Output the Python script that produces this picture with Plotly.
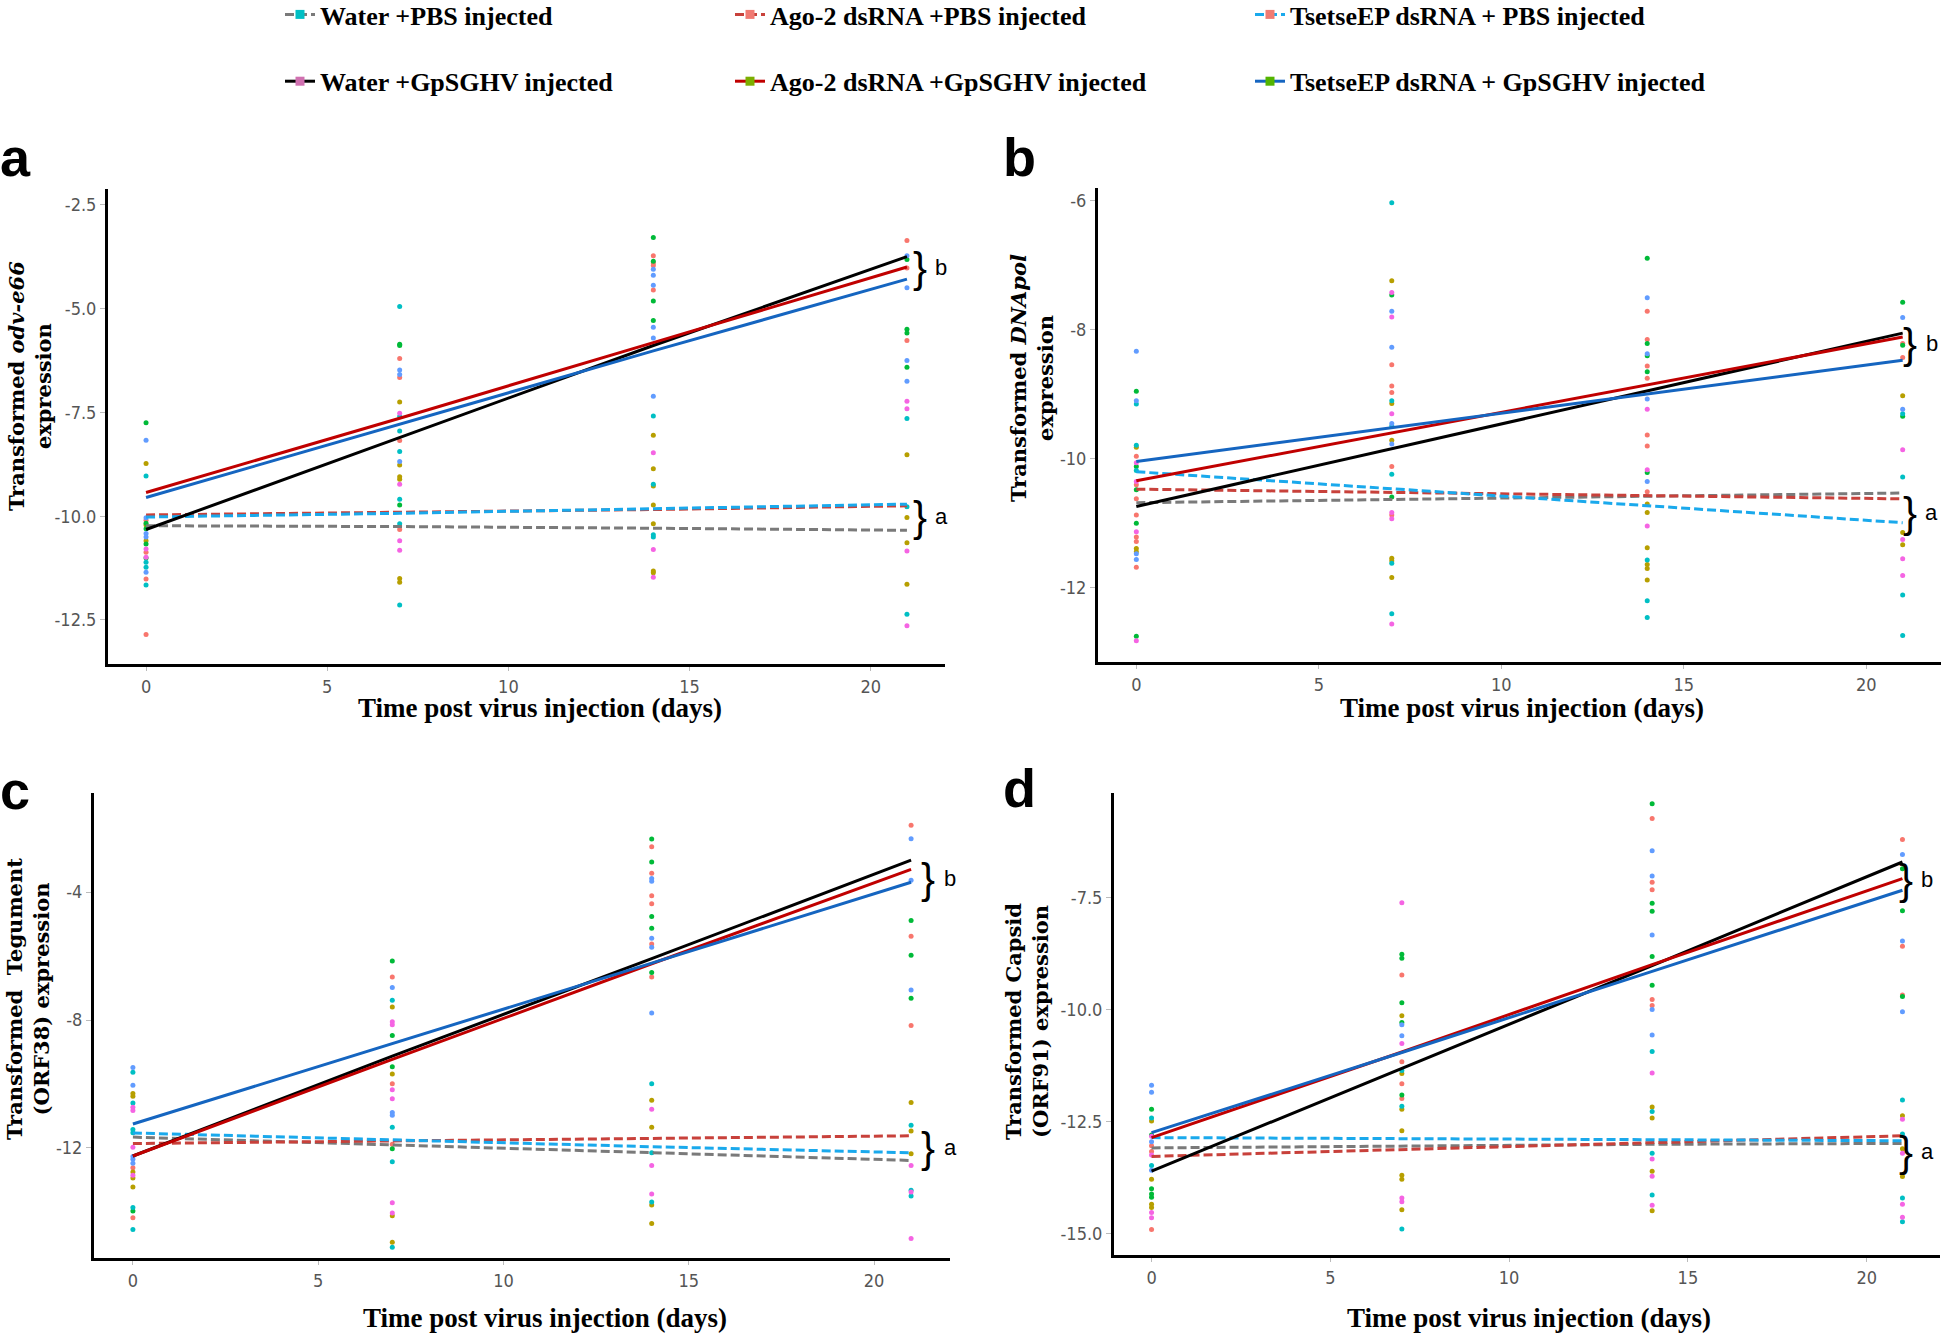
import plotly.graph_objects as go

W, H = 1946, 1337

# ---------------- data ----------------
DAYS = [0, 7, 14, 21]

GROUPS = ["Water +PBS injected", "Ago-2 dsRNA +PBS injected", "TsetseEP dsRNA + PBS injected",
          "Water +GpSGHV injected", "Ago-2 dsRNA +GpSGHV injected", "TsetseEP dsRNA + GpSGHV injected"]
LINE_COLORS = ["#7a7a7a", "#c8413b", "#1aa9ec", "#000000", "#c00000", "#1565c0"]
LINE_DASH = ["9px,4px", "9px,4px", "9px,4px", "solid", "solid", "solid"]
LEGEND_MARKER_COLORS = ["#00bfc4", "#f07a72", "#f07a72", "#d070b0", "#7cae00", "#53b400"]
LEGEND_COLUMN = ["legend", "legend2", "legend3", "legend", "legend2", "legend3"]

# regression lines: value at DAYS, one list per group (order as GROUPS)
FIT_A = [[-10.23, -10.25, -10.29, -10.34], [-9.97, -9.91, -9.84, -9.75], [-10.02, -9.93, -9.82, -9.71],
         [-10.32, -8.11, -5.89, -3.75], [-9.43, -7.64, -5.82, -4.0], [-9.55, -7.79, -6.02, -4.29]]
FIT_B = [[-10.69, -10.64, -10.59, -10.54], [-10.48, -10.53, -10.58, -10.63], [-10.21, -10.47, -10.74, -11.0],
         [-10.75, -9.85, -8.95, -8.06], [-10.35, -9.61, -8.86, -8.12], [-10.05, -9.53, -9.0, -8.48]]
FIT_C = [[-11.66, -11.9, -12.15, -12.39], [-11.86, -11.78, -11.69, -11.62], [-11.53, -11.75, -11.96, -12.15],
         [-12.25, -9.13, -6.08, -3.0], [-12.25, -9.23, -6.24, -3.29], [-11.25, -8.74, -6.22, -3.69]]
FIT_D = [[-13.08, -13.04, -13.0, -12.98], [-13.27, -13.12, -12.96, -12.81], [-12.85, -12.87, -12.9, -12.92],
         [-13.6, -11.31, -9.01, -6.7], [-12.85, -10.94, -8.99, -7.07], [-12.74, -10.95, -9.14, -7.33]]

PT_COLORS = {"R": "#f8766d", "O": "#b79f00", "G": "#00ba38", "C": "#00bfc4", "B": "#619cff", "P": "#f564e3"}

PTS_A = {
    0: [(-7.75, "G"), (-8.17, "B"), (-8.73, "O"), (-9.03, "C"), (-10.04, "B"), (-10.10, "R"), (-10.17, "G"),
        (-10.21, "O"), (-10.30, "G"), (-10.42, "B"), (-10.50, "B"), (-10.59, "O"), (-10.67, "G"), (-10.79, "P"),
        (-10.87, "R"), (-10.99, "P"), (-11.01, "G"), (-11.11, "C"), (-11.23, "C"), (-11.35, "B"), (-11.51, "R"),
        (-11.66, "C"), (-12.85, "R")],
    7: [(-4.95, "C"), (-5.86, "G"), (-5.89, "G"), (-6.2, "R"), (-6.48, "B"), (-6.59, "B"), (-6.66, "R"),
        (-7.25, "O"), (-7.52, "P"), (-7.6, "C"), (-7.95, "C"), (-8.18, "R"), (-8.44, "C"), (-8.68, "B"),
        (-8.77, "O"), (-9.05, "O"), (-9.11, "O"), (-9.23, "P"), (-9.59, "C"), (-9.73, "G"), (-10.18, "C"),
        (-10.32, "R"), (-10.59, "P"), (-10.82, "P"), (-11.5, "O"), (-11.59, "O"), (-12.14, "C")],
    14: [(-3.29, "G"), (-3.73, "R"), (-3.9, "R"), (-3.86, "G"), (-3.96, "R"), (-4.05, "B"), (-4.2, "B"),
         (-4.44, "B"), (-4.55, "R"), (-4.82, "G"), (-5.29, "G"), (-5.45, "B"), (-5.71, "B"), (-7.11, "B"),
         (-7.59, "C"), (-8.05, "O"), (-8.47, "P"), (-8.86, "O"), (-9.23, "C"), (-9.27, "O"), (-9.73, "O"),
         (-10.18, "O"), (-10.45, "C"), (-10.5, "C"), (-10.8, "P"), (-11.32, "O"), (-11.36, "O"), (-11.47, "P")],
    21: [(-3.36, "R"), (-3.73, "B"), (-3.82, "G"), (-4.02, "R"), (-4.5, "B"), (-5.5, "G"), (-5.59, "G"),
         (-5.77, "R"), (-6.25, "B"), (-6.41, "G"), (-6.75, "B"), (-7.23, "P"), (-7.41, "P"), (-7.65, "C"),
         (-8.52, "O"), (-9.77, "C"), (-10.03, "O"), (-10.64, "O"), (-10.84, "P"), (-11.64, "O"), (-12.36, "C"),
         (-12.64, "P")],
}
PTS_B = {
    0: [(-8.34, "B"), (-8.96, "G"), (-9.11, "B"), (-9.16, "C"), (-9.80, "C"), (-9.83, "O"), (-9.97, "R"),
        (-10.07, "P"), (-10.13, "G"), (-10.19, "C"), (-10.36, "P"), (-10.41, "R"), (-10.49, "G"), (-10.63, "R"),
        (-10.88, "R"), (-11.01, "G"), (-11.14, "P"), (-11.22, "R"), (-11.29, "R"), (-11.4, "O"), (-11.45, "O"),
        (-11.48, "B"), (-11.57, "B"), (-11.69, "R"), (-12.76, "G"), (-12.83, "P")],
    7: [(-6.04, "C"), (-7.25, "O"), (-7.43, "P"), (-7.47, "G"), (-7.72, "B"), (-7.81, "P"), (-8.28, "B"),
        (-8.55, "R"), (-8.88, "R"), (-8.98, "R"), (-9.11, "C"), (-9.15, "O"), (-9.31, "P"), (-9.46, "B"),
        (-9.5, "C"), (-9.72, "O"), (-9.78, "B"), (-10.13, "R"), (-10.25, "C"), (-10.6, "G"), (-10.84, "P"),
        (-10.88, "R"), (-10.94, "P"), (-11.55, "O"), (-11.59, "O"), (-11.63, "C"), (-11.85, "O"), (-12.41, "C"),
        (-12.57, "P")],
    14: [(-6.9, "G"), (-7.51, "B"), (-7.72, "R"), (-8.16, "R"), (-8.22, "G"), (-8.38, "B"), (-8.41, "G"),
         (-8.57, "R"), (-8.66, "G"), (-8.76, "R"), (-9.08, "B"), (-9.24, "P"), (-9.64, "R"), (-9.81, "R"),
         (-10.18, "P"), (-10.22, "G"), (-10.36, "B"), (-10.52, "R"), (-10.71, "O"), (-10.84, "O"), (-11.05, "P"),
         (-11.39, "O"), (-11.58, "C"), (-11.65, "O"), (-11.71, "O"), (-11.89, "O"), (-12.21, "C"), (-12.47, "C")],
    21: [(-7.58, "G"), (-7.82, "B"), (-8.22, "R"), (-8.25, "G"), (-8.44, "R"), (-9.03, "O"), (-9.24, "B"),
         (-9.31, "C"), (-9.35, "G"), (-9.87, "P"), (-10.29, "C"), (-11.15, "O"), (-11.26, "P"), (-11.34, "O"),
         (-11.56, "P"), (-11.82, "P"), (-12.12, "C"), (-12.75, "C")],
}
PTS_C = {
    0: [(-9.48, "B"), (-9.63, "C"), (-10.04, "B"), (-10.3, "O"), (-10.38, "O"), (-10.59, "C"), (-10.73, "P"),
        (-10.83, "P"), (-11.42, "C"), (-11.52, "C"), (-11.98, "P"), (-12.27, "B"), (-12.35, "B"), (-12.48, "B"),
        (-12.62, "R"), (-12.75, "O"), (-12.85, "P"), (-12.94, "O"), (-13.22, "O"), (-13.86, "C"), (-13.97, "G"),
        (-14.18, "R"), (-14.55, "C")],
    7: [(-6.15, "G"), (-6.65, "R"), (-6.98, "B"), (-7.38, "C"), (-7.59, "O"), (-8.05, "P"), (-8.15, "P"),
        (-8.48, "G"), (-9.46, "G"), (-9.69, "O"), (-9.99, "R"), (-10.18, "P"), (-10.46, "P"), (-10.89, "B"),
        (-10.98, "B"), (-11.35, "C"), (-11.88, "R"), (-12.02, "G"), (-12.43, "C"), (-13.71, "P"), (-14.03, "P"),
        (-14.12, "O"), (-14.95, "O"), (-15.1, "C")],
    14: [(-2.34, "G"), (-2.58, "R"), (-3.06, "G"), (-3.41, "R"), (-3.57, "B"), (-3.66, "B"), (-4.11, "R"),
         (-4.36, "R"), (-4.76, "G"), (-5.13, "G"), (-5.44, "B"), (-5.62, "R"), (-5.72, "B"), (-6.51, "G"),
         (-6.65, "R"), (-7.78, "B"), (-9.99, "C"), (-10.51, "O"), (-10.79, "P"), (-11.35, "O"), (-12.15, "C"),
         (-12.55, "P"), (-13.44, "P"), (-13.69, "C"), (-13.78, "O"), (-14.36, "O")],
    21: [(-1.91, "R"), (-2.33, "B"), (-3.63, "B"), (-4.89, "G"), (-5.38, "R"), (-5.97, "G"), (-7.06, "B"),
         (-7.32, "G"), (-8.17, "R"), (-10.58, "O"), (-11.29, "C"), (-11.47, "O"), (-12.18, "O"), (-12.55, "P"),
         (-13.32, "C"), (-13.38, "P"), (-13.5, "C"), (-14.83, "P")],
}
PTS_D = {
    0: [(-11.68, "B"), (-11.84, "B"), (-12.22, "G"), (-12.41, "C"), (-12.48, "O"), (-12.79, "G"), (-12.82, "P"),
        (-12.94, "B"), (-13.03, "R"), (-13.16, "R"), (-13.24, "P"), (-13.47, "C"), (-13.58, "B"), (-13.78, "O"),
        (-13.99, "G"), (-14.11, "G"), (-14.18, "G"), (-14.34, "O"), (-14.41, "O"), (-14.52, "P"), (-14.64, "P"),
        (-14.9, "R")],
    7: [(-7.61, "P"), (-8.76, "G"), (-8.85, "G"), (-9.22, "R"), (-9.84, "G"), (-10.13, "O"), (-10.28, "G"),
        (-10.33, "B"), (-10.58, "B"), (-10.75, "P"), (-11.16, "R"), (-11.35, "C"), (-11.42, "O"), (-11.65, "R"),
        (-11.9, "G"), (-11.98, "R"), (-12.15, "C"), (-12.22, "O"), (-12.7, "O"), (-13.69, "O"), (-13.78, "O"),
        (-14.2, "P"), (-14.28, "P"), (-14.46, "O"), (-14.89, "C")],
    14: [(-5.4, "G"), (-5.73, "R"), (-6.45, "B"), (-7.01, "B"), (-7.15, "R"), (-7.32, "R"), (-7.62, "G"),
         (-7.8, "G"), (-8.33, "B"), (-8.81, "G"), (-9.45, "G"), (-9.77, "R"), (-9.9, "R"), (-9.99, "B"),
         (-10.56, "B"), (-10.93, "C"), (-11.41, "P"), (-12.17, "O"), (-12.27, "C"), (-12.41, "O"), (-13.2, "C"),
         (-13.33, "P"), (-13.6, "O"), (-13.71, "P"), (-14.13, "C"), (-14.36, "P"), (-14.48, "O")],
    21: [(-6.2, "R"), (-6.53, "B"), (-6.85, "G"), (-7.79, "G"), (-8.46, "B"), (-8.58, "R"), (-9.67, "R"),
         (-9.7, "G"), (-10.04, "B"), (-12.01, "C"), (-12.36, "O"), (-12.44, "P"), (-12.77, "C"), (-13.1, "O"),
         (-13.2, "P"), (-13.72, "O"), (-14.2, "C"), (-14.34, "P"), (-14.63, "P"), (-14.73, "C")],
}

Y_TITLES = ["Transformed <i>odv-e66</i><br>expression",
            "Transformed <i>DNApol</i><br>expression",
            "Transformed \u00a0Tegument<br>(ORF38) expression",
            "Transformed Capsid<br>(ORF91) expression"]
X_TITLE = "Time post virus injection (days)"
PANEL_LETTERS = ["a", "b", "c", "d"]

X_TICKS = [0, 5, 10, 15, 20]
Y_TICKS = [[-12.5, -10.0, -7.5, -5.0, -2.5], [-12, -10, -8, -6], [-12, -8, -4], [-15.0, -12.5, -10.0, -7.5]]
Y_TICKTEXT = [["-12.5", "-10.0", "-7.5", "-5.0", "-2.5"], ["-12", "-10", "-8", "-6"], ["-12", "-8", "-4"],
              ["-15.0", "-12.5", "-10.0", "-7.5"]]
Y_RANGES = [[-13.56, -2.12], [-13.16, -5.81], [-15.44, -0.9], [-15.47, -5.16]]
# significance brackets: (y of "b" group, y of "a" group)
BRACKETS = [(-4.0, -10.0), (-8.22, -10.84), (-3.56, -12.0), (-7.1, -13.17)]
BRACKET_X = [21.35, 21.2, 21.45, 21.1]

# ---------------- layout geometry (pixels) ----------------
DOMAINS_PX = [((108, 945), (189, 664)), ((1098, 1941), (188, 662)),
              ((94, 950), (793, 1258)), ((1114, 1940), (793, 1255))]
YTITLE_POS = [(30, 386), (1032, 378), (28, 999), (1027, 1022)]
XTITLE_POS = [(540, 708), (1522, 708), (545, 1318), (1529, 1318)]
LETTER_POS = [(15, 157), (1019, 157), (15, 790), (1019, 788)]

fig = go.Figure()
panels_pts = [PTS_A, PTS_B, PTS_C, PTS_D]
panels_fit = [FIT_A, FIT_B, FIT_C, FIT_D]

TICK_FONT = dict(family="Liberation Sans Narrow, DejaVu Sans Condensed, Liberation Sans", size=18, color="#555555")

for p in range(4):
    xa = "x" if p == 0 else f"x{p + 1}"
    ya = "y" if p == 0 else f"y{p + 1}"
    for code, col in PT_COLORS.items():
        xs, ys = [], []
        for d in DAYS:
            for v, c in panels_pts[p][d]:
                if c == code:
                    xs.append(d)
                    ys.append(v)
        fig.add_trace(go.Scatter(x=xs, y=ys, mode="markers", xaxis=xa, yaxis=ya, showlegend=False,
                                 marker=dict(color=col, size=5, line=dict(width=0)), hoverinfo="skip"))
    for g in range(6):
        fig.add_trace(go.Scatter(x=DAYS, y=panels_fit[p][g], mode="lines", xaxis=xa, yaxis=ya,
                                 showlegend=False, name=GROUPS[g],
                                 line=dict(color=LINE_COLORS[g], width=3, dash=LINE_DASH[g])))

# legend entries
for g in range(6):
    fig.add_trace(go.Scatter(x=[None], y=[None], mode="lines+markers", name=GROUPS[g],
                             legend=LEGEND_COLUMN[g], legendgroup=GROUPS[g],
                             line=dict(color=LINE_COLORS[g], width=3, dash=LINE_DASH[g]),
                             marker=dict(color=LEGEND_MARKER_COLORS[g], size=9, symbol="square")))

layout = dict(width=W, height=H, margin=dict(l=0, r=0, t=0, b=0, autoexpand=False),
              plot_bgcolor="white", paper_bgcolor="white", annotations=[])

LEG_FONT = dict(family="Liberation Serif", size=26, color="black", weight="bold")
for name, lx in [("legend", 280), ("legend2", 730), ("legend3", 1250)]:
    layout[name] = dict(x=lx / W, y=1 + 9 / H, xanchor="left", yanchor="top", orientation="v",
                        font=LEG_FONT, tracegroupgap=30, bgcolor="rgba(0,0,0,0)")

for p in range(4):
    (x0, x1), (y0, y1) = DOMAINS_PX[p]
    sfx = "" if p == 0 else str(p + 1)
    layout["xaxis" + sfx] = dict(domain=[x0 / W, x1 / W], range=[-1.05, 22.05], anchor="y" + sfx,
                                 showgrid=False, zeroline=False, showline=True, linecolor="black",
                                 linewidth=3, ticks="outside", ticklen=4, tickwidth=1, tickcolor="#bbbbbb",
                                 tickvals=X_TICKS, ticktext=[str(t) for t in X_TICKS], tickfont=TICK_FONT)
    layout["yaxis" + sfx] = dict(domain=[1 - y1 / H, 1 - y0 / H], range=Y_RANGES[p], anchor="x" + sfx,
                                 showgrid=False, zeroline=False, showline=True, linecolor="black",
                                 linewidth=3, ticks="outside", ticklen=5, tickwidth=1, tickcolor="#bbbbbb",
                                 tickvals=Y_TICKS[p], ticktext=Y_TICKTEXT[p], tickfont=TICK_FONT)
    ann = layout["annotations"]
    tx, ty = YTITLE_POS[p]
    ann.append(dict(text=Y_TITLES[p], x=tx / W, y=1 - ty / H, xref="paper", yref="paper", textangle=-90,
                    showarrow=False, xanchor="center", yanchor="middle",
                    font=dict(family="DejaVu Serif", size=21, color="black", weight="bold"), align="center"))
    tx, ty = XTITLE_POS[p]
    ann.append(dict(text=X_TITLE, x=tx / W, y=1 - ty / H, xref="paper", yref="paper",
                    showarrow=False, xanchor="center", yanchor="middle",
                    font=dict(family="Liberation Serif", size=27, color="black", weight="bold")))
    lx, ly = LETTER_POS[p]
    ann.append(dict(text=PANEL_LETTERS[p], x=lx / W, y=1 - ly / H, xref="paper", yref="paper",
                    showarrow=False, xanchor="center", yanchor="middle",
                    font=dict(family="Liberation Sans", size=54, color="black", weight="bold")))
    for yv, lab in zip(BRACKETS[p], ["b", "a"]):
        ann.append(dict(text="}", x=BRACKET_X[p], y=yv, xref="x" + sfx, yref="y" + sfx, showarrow=False,
                        xanchor="center", yanchor="middle",
                        font=dict(family="Liberation Sans", size=42, color="black")))
        ann.append(dict(text=lab, x=BRACKET_X[p] + 0.6, y=yv, xref="x" + sfx, yref="y" + sfx,
                        showarrow=False, xanchor="center", yanchor="middle",
                        font=dict(family="Liberation Sans", size=22, color="black")))

fig.update_layout(**layout)

fig.write_html("out.html", config={"displayModeBar": False},
               post_script="document.body.style.margin='0';document.body.style.overflow='hidden';")
